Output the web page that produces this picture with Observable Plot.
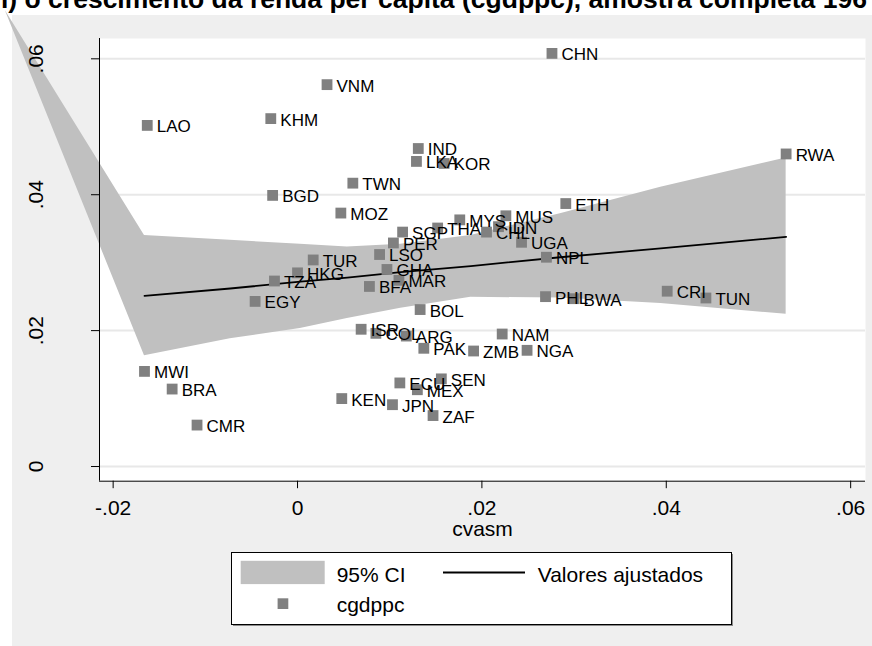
<!DOCTYPE html>
<html>
<head>
<meta charset="utf-8">
<script src="https://cdn.jsdelivr.net/npm/d3@7"></script>
<script src="https://cdn.jsdelivr.net/npm/@observablehq/plot@0.6"></script>
<style>
  html, body { margin: 0; padding: 0; background: #ffffff; }
  #wrap { position: relative; width: 872px; height: 646px; overflow: hidden; font-family: "Liberation Sans", Arial, sans-serif; }
  #panel { position: absolute; left: 12px; top: 15px; right: 0; bottom: 0; background: #efefef; }
  #title { position: absolute; left: 1px; top: -15.7px; font: bold 26.5px "Liberation Sans", Arial, sans-serif; line-height: 30px; white-space: nowrap; color: #000; }
  #chart { position: absolute; left: 0; top: 0; }
  #legend { position: absolute; left: 231px; top: 552px; }
</style>
</head>
<body>
<div id="wrap">
  <div id="panel"></div>
  <div id="title">i) o crescimento da renda per capita (cgdppc), amostra completa 196</div>
  <div id="chart"></div>
  <svg id="legend" width="504" height="76" font-family="Liberation Sans, Arial, sans-serif" font-size="21">
    <rect x="2" y="2" width="500" height="72" fill="#8a8a8a"></rect>
    <rect x="0.5" y="0.5" width="500" height="72" fill="#ffffff" stroke="#000000" stroke-width="1"></rect>
    <rect x="9.7" y="8.8" width="84" height="23.3" fill="#c0c0c0"></rect>
    <text x="105.7" y="29.8">95% CI</text>
    <line x1="212" x2="294" y1="20.5" y2="20.5" stroke="#000000" stroke-width="1.8"></line>
    <text x="306.7" y="29.8">Valores ajustados</text>
    <rect x="46.6" y="46.3" width="10.7" height="10.7" fill="#808080"></rect>
    <text x="105.7" y="59.5">cgdppc</text>
  </svg>
</div>
<script>
// Country codes with their cvasm (x) and cgdppc (y) values
const codes = ["CHN","VNM","LAO","KHM","IND","LKA","KOR","RWA","TWN","BGD","MOZ","ETH",
  "MYS","MUS","IDN","CHL","THA","SGP","PER","UGA","LSO","NPL","TUR","GHA","HKG","TZA",
  "MAR","BFA","EGY","BOL","PHL","BWA","CRI","TUN","ISR","COL","ARG","PAK","ZMB","NAM",
  "NGA","ECU","MEX","SEN","KEN","JPN","ZAF","MWI","BRA","CMR"];
const cvasm = [0.0276,0.0032,-0.0163,-0.0029,0.0131,0.0129,0.0159,0.0530,0.0060,-0.0027,0.0047,0.0291,
  0.0176,0.0226,0.0218,0.0205,0.0152,0.0114,0.0104,0.0243,0.0089,0.0270,0.0017,0.0097,0.0000,-0.0025,
  0.0110,0.0078,-0.0046,0.0133,0.0269,0.0300,0.0401,0.0443,0.0069,0.0085,0.0118,0.0137,0.0191,0.0222,
  0.0249,0.0111,0.0130,0.0156,0.0048,0.0103,0.0147,-0.0166,-0.0136,-0.0109];
const cgdppc = [0.0608,0.0562,0.0502,0.0512,0.0468,0.0449,0.0446,0.0460,0.0417,0.0399,0.0373,0.0387,
  0.0363,0.0369,0.0353,0.0345,0.0351,0.0345,0.0329,0.0330,0.0312,0.0308,0.0304,0.0290,0.0285,0.0273,
  0.0274,0.0265,0.0243,0.0231,0.0250,0.0247,0.0258,0.0248,0.0202,0.0196,0.0192,0.0174,0.0170,0.0195,
  0.0171,0.0123,0.0113,0.0129,0.0100,0.0091,0.0075,0.0140,0.0114,0.0061];

// Linear fit with its 95% confidence band, read along cvasm
// (the first vertex is the stray point the band polygon starts from)
const bandX   = [-0.0317,-0.0166,-0.0073,0.0003,0.0054,0.0112,0.0188,0.0285,0.0394,0.0530];
const bandLo  = [ 0.0671, 0.0163, 0.0188,0.0203,0.0218,0.0233,0.0249,0.0248,0.0240,0.0224];
const bandHi  = [ 0.0671, 0.0340, 0.0333,0.0327,0.0323,0.0327,0.0340,0.0372,0.0411,0.0454];
const bandFit = [   null, 0.0251, 0.0262,0.0272,0.0278,0.0286,0.0295,0.0308,0.0321,0.0338];

const xTicks = [-0.02, 0, 0.02, 0.04, 0.06];
const yTicks = [0, 0.02, 0.04, 0.06];
const xDomain = [-0.02148, 0.06161];
const yDomain = [-0.00216, 0.06299];

const points = codes.map((c, i) => ({code: c, x: cvasm[i], y: cgdppc[i]}));
const band = bandX.map((x, i) => ({x, lo: bandLo[i], hi: bandHi[i], fit: bandFit[i]}));

// Stata-style number format: ".02", "-.02", "0"
const fmt = d => d === 0 ? "0" : d3.format(".2f")(d).replace("\u2212", "-").replace("0.", ".");
const font = "Liberation Sans, Arial, sans-serif";

const chart = Plot.plot({
  width: 872,
  height: 646,
  marginLeft: 99,
  marginRight: 7,
  marginTop: 38,
  marginBottom: 165.3,
  style: {background: "transparent", fontFamily: font, color: "#000", overflow: "visible"},
  x: {domain: xDomain},
  y: {domain: yDomain},
  marks: [
    Plot.frame({fill: "#ffffff", stroke: "none"}),
    Plot.gridY(yTicks, {stroke: "#e8e8e8", strokeOpacity: 1, strokeWidth: 2}),
    Plot.areaY(band, {x: "x", y1: "lo", y2: "hi", fill: "#c0c0c0"}),
    Plot.line(band, {x: "x", y: "fit", stroke: "#000", strokeWidth: 1.8}),
    Plot.dot(points, {x: "x", y: "y", symbol: "square", r: 6.1, fill: "#808080", stroke: "none"}),
    Plot.text(points, {x: "x", y: "y", text: "code", textAnchor: "start", dx: 9.5, dy: 1.5,
      fontSize: 17, fill: "#000", fontFamily: font}),
    Plot.ruleX([xDomain[0]], {stroke: "#000", strokeWidth: 1}),
    Plot.ruleY([yDomain[0]], {stroke: "#000", strokeWidth: 1}),
    Plot.axisX({ticks: xTicks, tickFormat: fmt, tickSize: 7.5, tickPadding: 11.5,
      fontSize: 21, label: null, fontFamily: font}),
    Plot.axisY({ticks: yTicks, tickFormat: fmt, tickSize: 8, tickRotate: -90, tickPadding: 49,
      fontSize: 21, label: null, fontFamily: font}),
    Plot.text(["cvasm"], {frameAnchor: "bottom", dy: 54.5, lineAnchor: "bottom",
      fontSize: 21, fontFamily: font, fill: "#000"})
  ]
});
document.getElementById("chart").appendChild(chart);
</script>
</body>
</html>
